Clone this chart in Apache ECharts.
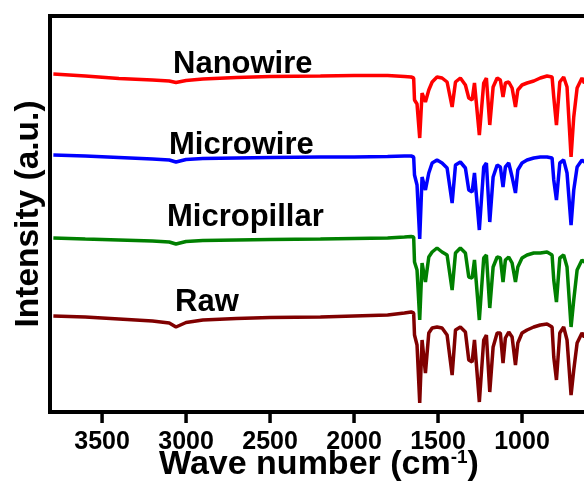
<!DOCTYPE html>
<html>
<head>
<meta charset="utf-8">
<script src="https://cdn.jsdelivr.net/npm/echarts@6/dist/echarts.min.js"></script>
<style>
  html, body { margin: 0; padding: 0; background: #fff; }
  #chart { width: 584px; height: 486px; }
</style>
</head>
<body>
<div id="chart"></div>
<script>
// wave numbers (cm-1), shared by all four spectra
const waveNumbers = [3790, 3600, 3400, 3200, 3100, 3060, 3000, 2900, 2700, 2500, 2200, 2000, 1800, 1700, 1660, 1645,
  1640, 1625, 1609, 1595, 1575, 1555, 1535, 1506, 1476, 1446, 1416, 1396, 1367, 1337, 1317, 1297, 1283, 1254,
  1228, 1212, 1192, 1172, 1148, 1129, 1113, 1099, 1079, 1059, 1039, 1025, 1000, 970, 930, 891, 851, 821, 811,
  795, 775, 752, 732, 708, 692, 672, 643, 629, 600]

// intensities (a.u., already offset for stacking)
const nanowire = [338, 336, 333.5, 332, 331, 329.5, 331.5, 333, 334.5, 335.5, 336, 336.5, 336.5, 335.5, 335, 334,
  312, 308, 274, 319, 310, 322, 330, 335, 334, 330, 305, 330, 334, 327, 314, 312, 329, 277,
  329, 334, 287, 325, 334, 332, 315, 329, 330, 324, 305, 322, 327, 329, 331, 334, 336, 335, 315,
  287, 330, 335, 325, 255, 295, 324, 334, 329, 332]
const microwire = [257, 256, 254.5, 253, 252, 250, 252.5, 253.5, 254, 254.5, 255, 255, 255.5, 256, 256, 255,
  237, 227, 173, 235, 222, 239, 249, 252, 249, 244, 209, 247, 250, 244, 222, 220, 239, 182,
  245, 249, 190, 235, 247, 245, 225, 245, 249, 235, 219, 242, 249, 252, 254, 255, 255, 254, 232,
  212, 249, 252, 239, 187, 222, 245, 252, 250, 252]
const micropillar = [174, 173, 172, 171, 170, 168, 170.5, 171.5, 172, 172.5, 173, 173.5, 174, 175, 175.5, 175,
  150, 142, 92, 149, 130, 155, 160, 164, 160, 157, 122, 159, 164, 159, 135, 134, 152, 92,
  154, 157, 104, 145, 155, 154, 130, 152, 155, 149, 130, 145, 154, 157, 159, 159, 160, 157, 132,
  110, 154, 157, 145, 85, 112, 142, 152, 150, 152]
const raw = [96, 95, 93, 91, 89, 85, 89.5, 92, 93.5, 94.5, 95, 96, 97, 99, 100, 99,
  77, 67, 9, 72, 39, 79, 84, 85, 84, 77, 37, 82, 85, 80, 52, 50, 72, 10,
  72, 77, 20, 65, 79, 79, 49, 74, 80, 75, 47, 69, 79, 82, 85, 87, 88, 85, 55,
  32, 79, 85, 72, 17, 42, 69, 79, 75, 79]

const seriesNames = ['Nanowire', 'Microwire', 'Micropillar', 'Raw']
const seriesColors = ['#ff0000', '#0000ff', '#008000', '#800000']
const xTicks = [3500, 3000, 2500, 2000, 1500, 1000, 500]

const font = "'Liberation Sans', Arial, sans-serif"

// axis runs high -> low, so plot against -wavenumber
function toPairs(values) {
  return waveNumbers.map((w, i) => [-w, values[i]])
}

const chart = echarts.init(document.getElementById('chart'), null, { renderer: 'canvas' })

const allValues = [nanowire, microwire, micropillar, raw]

// label anchors in px
const labelPos = [[173, 64], [169, 145], [167, 217], [175, 302]]

const labelGraphics = seriesNames.map((name, i) => ({
  type: 'text',
  x: labelPos[i][0],
  y: labelPos[i][1],
  z: 100,
  style: {
    text: name,
    fill: '#000',
    font: 'bold 31px ' + font,
    align: 'left',
    verticalAlign: 'middle',
  },
}))

chart.setOption({
  animation: false,
  backgroundColor: '#fff',
  grid: {
    left: 50,
    top: 16,
    width: 556,
    bottom: 74,
    outerBoundsMode: 'none',
    containLabel: false,
    show: true,
    borderColor: '#000',
    borderWidth: 4,
  },
  xAxis: {
    type: 'value',
    min: -3810,
    max: -500,
    axisLine: { show: true, lineStyle: { color: '#000', width: 4 } },
    axisTick: { show: false },
    axisLabel: {
      customValues: xTicks.map(v => -v),
      formatter: v => String(-v),
      color: '#000',
      fontSize: 25,
      fontWeight: 'bold',
      fontFamily: font,
      margin: 18,
    },
    splitLine: { show: false },
    name: 'Wave number (cm{sup|-1})',
    nameLocation: 'middle',
    nameGap: 36,
    nameMoveOverlap: false,
    nameTextStyle: {
      color: '#000',
      fontSize: 34,
      fontWeight: 'bold',
      fontFamily: font,
      padding: [0, 18, 0, 0],
      rich: {
        sup: { fontSize: 19, fontWeight: 'bold', fontFamily: font, color: '#000', verticalAlign: 'top' },
      },
    },
  },
  yAxis: {
    type: 'value',
    min: 0,
    max: 396,
    axisLine: { show: false },
    axisTick: { show: false },
    axisLabel: { show: false },
    splitLine: { show: false },
    name: 'Intensity (a.u.)',
    nameLocation: 'middle',
    nameRotate: 90,
    nameGap: 4,
    nameMoveOverlap: false,
    nameTextStyle: {
      color: '#000',
      fontSize: 33.5,
      fontWeight: 'bold',
      fontFamily: font,
    },
  },
  series: seriesNames.map((name, i) => ({
    name,
    type: 'line',
    data: toPairs(allValues[i]),
    showSymbol: false,
    smooth: false,
    lineStyle: { color: seriesColors[i], width: 3.5 },
    itemStyle: { color: seriesColors[i] },
  })),
  graphic: labelGraphics,
})

// outward tick marks on the bottom axis, placed through the axis scale
const axisY = chart.convertToPixel({ yAxisIndex: 0 }, 0)
const tickGraphics = xTicks.map(v => {
  const x = chart.convertToPixel({ xAxisIndex: 0 }, -v)
  return {
    type: 'rect',
    z: 100,
    silent: true,
    shape: { x: x - 1.75, y: axisY, width: 3.5, height: 11 },
    style: { fill: '#000' },
  }
})
chart.setOption({ graphic: labelGraphics.concat(tickGraphics) })
if (!isFinite(axisY) || !isFinite(tickGraphics[0].shape.x)) {
  throw new Error('tick px ' + axisY + ' ' + tickGraphics[0].shape.x)
}
</script>
</body>
</html>
